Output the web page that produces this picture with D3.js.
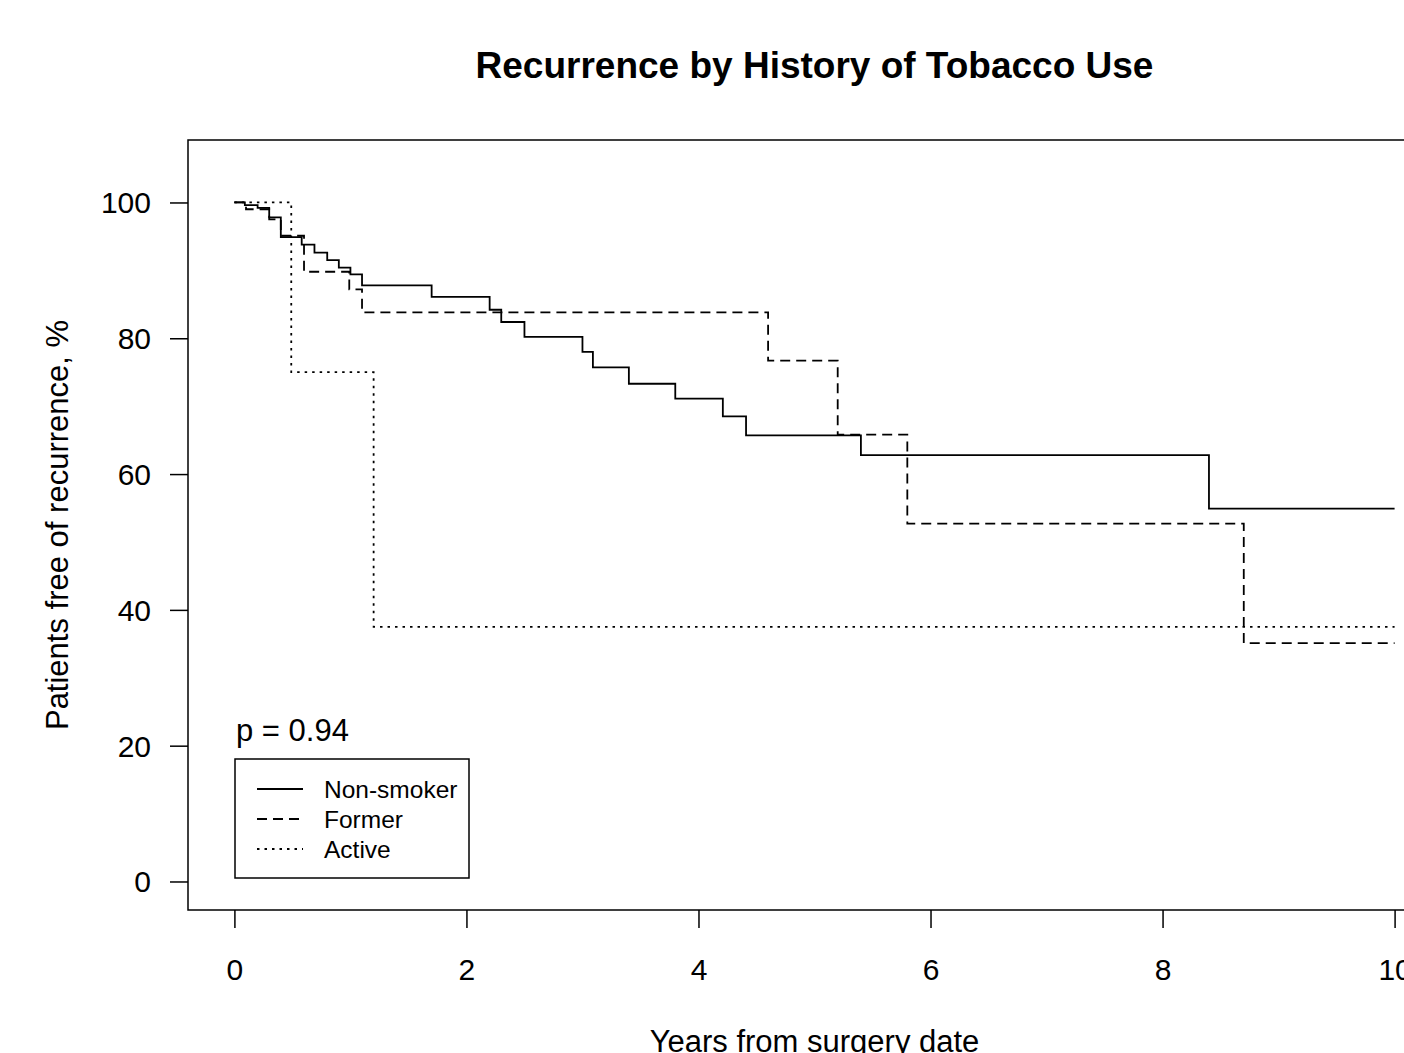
<!DOCTYPE html>
<html>
<head>
<meta charset="utf-8">
<script src="https://cdn.jsdelivr.net/npm/d3@7"></script>
<style>
  body { margin: 0; background: #fff; overflow: hidden; }
  svg { display: block; font-family: "Liberation Sans", Arial, sans-serif; }
</style>
</head>
<body>
<div id="chart"></div>
<script>
// Kaplan-Meier step curves (years, % free of recurrence)
var nonSmokerTimes = [0, 0.09, 0.2, 0.3, 0.4, 0.58, 0.69, 0.8, 0.9, 1.0, 1.1, 1.7, 2.2, 2.3, 2.5, 3.0, 3.09, 3.4, 3.8, 4.21, 4.41, 5.4, 8.4, 10.0];
var nonSmokerSurv  = [100, 99.6, 99.2, 97.8, 94.9, 93.8, 92.6, 91.5, 90.4, 89.4, 87.8, 86.1, 84.2, 82.4, 80.2, 78.0, 75.7, 73.3, 71.1, 68.5, 65.7, 62.8, 54.9, 54.9];
var formerTimes = [0, 0.1, 0.3, 0.4, 0.6, 0.99, 1.1, 4.6, 5.2, 5.8, 8.7, 10.0];
var formerSurv  = [100, 99.0, 97.5, 95.1, 89.8, 87.2, 83.8, 76.7, 65.8, 52.7, 35.1, 35.1];
var activeTimes = [0, 0.49, 1.2, 10.0];
var activeSurv  = [100, 75.0, 37.5, 37.5];

var seriesNames = ["Non-smoker", "Former", "Active"];
var xTicks = [0, 2, 4, 6, 8, 10];
var yTicks = [0, 20, 40, 60, 80, 100];
var pText = "p = 0.94";

var W = 1404, H = 1053;
var svg = d3.select("#chart").append("svg")
    .attr("width", W)
    .attr("height", H);

var x = d3.scaleLinear().domain([-0.4, 10.4]).range([188, 1441]);
var y = d3.scaleLinear().domain([-4.2, 109.2]).range([910, 140]);

function drawSeries(times, surv, dash) {
    var pts = times.map(function(t, i) { return [t, surv[i]]; });
    var line = d3.line()
        .x(function(d) { return x(d[0]); })
        .y(function(d) { return y(d[1]); })
        .curve(d3.curveStepAfter);
    svg.append("path")
        .datum(pts)
        .attr("fill", "none")
        .attr("stroke", "#000")
        .attr("stroke-width", 1.8)
        .attr("stroke-dasharray", dash)
        .attr("d", line);
}

// plot box
svg.append("rect")
    .attr("x", x(-0.4))
    .attr("y", y(109.2))
    .attr("width", x(10.4) - x(-0.4))
    .attr("height", y(-4.2) - y(109.2))
    .attr("fill", "none")
    .attr("stroke", "#000")
    .attr("stroke-width", 1.5);

drawSeries(nonSmokerTimes, nonSmokerSurv, null);
drawSeries(formerTimes, formerSurv, "10,6");
drawSeries(activeTimes, activeSurv, "2.5,5");

// axes, R style ticks outside the box
var xAxis = svg.append("g")
    .attr("transform", "translate(0," + y(-4.2) + ")")
    .call(d3.axisBottom(x).tickValues(xTicks).tickSize(18).tickPadding(31).tickFormat(d3.format("d")));
var yAxis = svg.append("g")
    .attr("transform", "translate(" + x(-0.4) + ",0)")
    .call(d3.axisLeft(y).tickValues(yTicks).tickSize(18).tickPadding(19).tickFormat(d3.format("d")));
[xAxis, yAxis].forEach(function(a) {
    a.select(".domain").remove();
    a.selectAll("line").attr("stroke-width", 1.5);
    a.selectAll("text").attr("font-size", 30).attr("font-family", "Liberation Sans, Arial, sans-serif").attr("fill", "#000");
});
yAxis.selectAll("text").attr("dy", "0.35em");

// titles
svg.append("text")
    .attr("x", (x(-0.4) + x(10.4)) / 2)
    .attr("y", 78)
    .attr("text-anchor", "middle")
    .attr("font-size", 37)
    .attr("font-weight", "bold")
    .text("Recurrence by History of Tobacco Use");
svg.append("text")
    .attr("x", (x(-0.4) + x(10.4)) / 2)
    .attr("y", 1052)
    .attr("text-anchor", "middle")
    .attr("font-size", 31)
    .text("Years from surgery date");
svg.append("text")
    .attr("transform", "translate(68," + (y(-4.2) + y(109.2)) / 2 + ") rotate(-90)")
    .attr("text-anchor", "middle")
    .attr("font-size", 31)
    .text("Patients free of recurrence, %");

// p value
svg.append("text")
    .attr("x", 236)
    .attr("y", 741)
    .attr("font-size", 31)
    .text(pText);

// legend
var dashes = [null, "10,6", "2.5,5"];
svg.append("rect")
    .attr("x", 235).attr("y", 759)
    .attr("width", 234).attr("height", 119)
    .attr("fill", "none").attr("stroke", "#000").attr("stroke-width", 1.5);
var leg = svg.selectAll(".leg")
    .data(seriesNames)
  .enter().append("g")
    .attr("class", "leg")
    .attr("transform", function(d, i) { return "translate(0," + (789 + i * 30) + ")"; });
leg.append("line")
    .attr("x1", 257).attr("x2", 303)
    .attr("stroke", "#000").attr("stroke-width", 1.8)
    .attr("stroke-dasharray", function(d, i) { return dashes[i]; });
leg.append("text")
    .attr("x", 324)
    .attr("dy", "0.35em")
    .attr("font-size", 24.5)
    .text(function(d) { return d; });
</script>
</body>
</html>
